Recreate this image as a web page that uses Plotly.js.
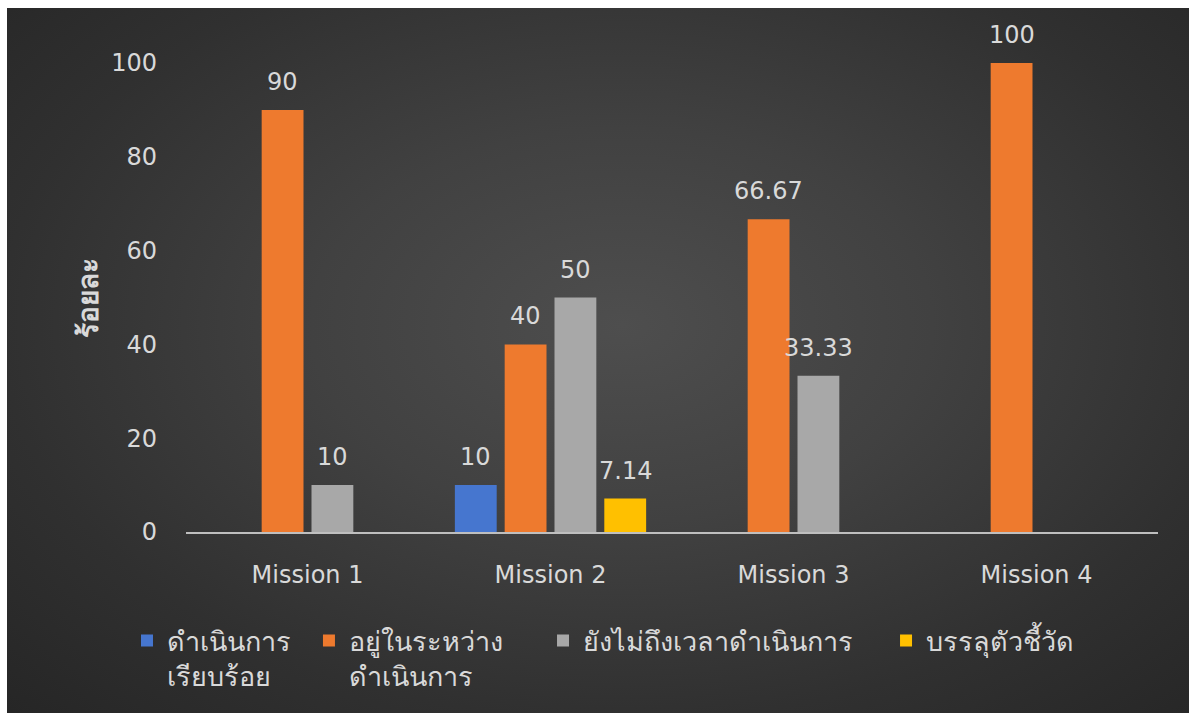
<!DOCTYPE html>
<html>
<head>
<meta charset="utf-8">
<script src="https://cdn.plot.ly/plotly-3.0.1.min.js"></script>
<style>
  html, body { margin: 0; padding: 0; background: #ffffff; }
  #wrap { position: relative; width: 1189px; height: 713px; background: #ffffff; overflow: hidden; }
  #bg { position: absolute; left: 7px; top: 8px; right: 0; bottom: 0;
        background: radial-gradient(ellipse 75% 80% at 52% 45%, #4e4e4e 0%, #414141 35%, #303030 70%, #252525 100%); }
  #chart { position: absolute; left: 0; top: 0; width: 1189px; height: 713px; }
</style>
</head>
<body>
<div id="wrap"><div id="bg"></div><div id="chart"></div></div>
<script>
// ---- data ----
const categories = ["Mission 1", "Mission 2", "Mission 3", "Mission 4"];
const seriesNames = ["ดำเนินการ<br>เรียบร้อย", "อยู่ในระหว่าง<br>ดำเนินการ", "ยังไม่ถึงเวลาดำเนินการ", "บรรลุตัวชี้วัด"];
const doneValues = [null, 10, null, null];
const inProgressValues = [90, 40, 66.67, 100];
const notYetValues = [10, 50, 33.33, null];
const achievedValues = [null, 7.14, null, null];
const seriesColors = ["#4676cf", "#ee7a2e", "#a8a8a8", "#ffc000"];
const yTickValues = [0, 20, 40, 60, 80, 100];
const yTitle = "ร้อยละ";

const allValues = [doneValues, inProgressValues, notYetValues, achievedValues];
const FONT = "Tahoma, 'DejaVu Sans', 'Noto Sans', sans-serif";
const TXT = "#d9d9d9";
const bargap = 0.18;
const slot = (1 - bargap) / allValues.length;
// horizontal placement of each legend entry (paper fraction of plot width)
const legendX = [-0.0607, 0.1265, 0.3673, 0.7202];
const legendIds = ["legend", "legend2", "legend3", "legend4"];

const traces = allValues.map((vals, i) => ({
  type: "bar",
  name: seriesNames[i],
  x: categories,
  y: vals,
  legend: legendIds[i],
  marker: { color: seriesColors[i] },
  hoverinfo: "x+y"
}));

const annotations = [];
allValues.forEach((vals, i) => {
  vals.forEach((v, c) => {
    if (v === null) return;
    annotations.push({
      x: c + (i - (allValues.length - 1) / 2) * slot,
      y: v,
      xref: "x", yref: "y",
      text: String(v),
      showarrow: false,
      yanchor: "bottom",
      yshift: 12,
      font: { family: FONT, size: 24, color: TXT }
    });
  });
});

const layout = {
  width: 1189, height: 713,
  paper_bgcolor: "rgba(0,0,0,0)",
  plot_bgcolor: "rgba(0,0,0,0)",
  margin: { l: 186, r: 31, t: 63, b: 181, autoexpand: false },
  barmode: "group",
  bargap: bargap,
  bargroupgap: 0.16,
  font: { family: FONT, color: TXT, size: 24 },
  showlegend: true,
  xaxis: {
    type: "category",
    showline: true, linecolor: "#bfbfbf", linewidth: 2,
    showgrid: false, zeroline: false,
    ticks: "", ticklabelstandoff: 20,
    tickfont: { family: FONT, size: 24, color: TXT },
    fixedrange: true
  },
  yaxis: {
    range: [0, 100],
    tickvals: yTickValues,
    showline: false, showgrid: false, zeroline: false,
    ticks: "", ticklabelstandoff: 28,
    tickfont: { family: FONT, size: 24, color: TXT },
    title: { text: "<b>" + yTitle + "</b>", font: { family: FONT, size: 28, color: TXT }, standoff: 4 },
    automargin: false,
    fixedrange: true
  },
  annotations: annotations
};

legendIds.forEach((id, i) => {
  layout[id] = {
    orientation: "h",
    x: legendX[i], xanchor: "left",
    y: -0.18, yanchor: "top",
    font: { family: FONT, size: 27, color: TXT },
    bgcolor: "rgba(0,0,0,0)",
    itemwidth: 30,
    valign: "top"
  };
});

Plotly.newPlot("chart", traces, layout, { displayModeBar: false, staticPlot: true });
</script>
</body>
</html>
